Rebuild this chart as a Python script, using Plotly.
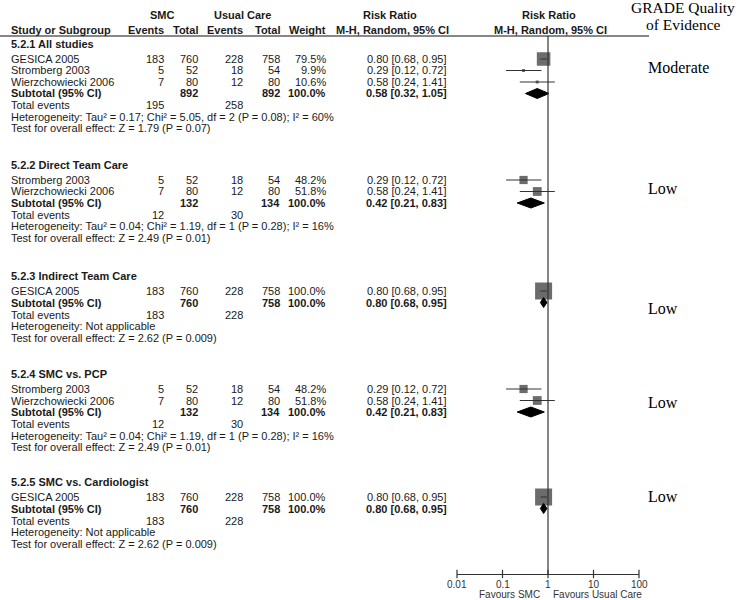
import math
import plotly.graph_objects as go

# ---------------- data ----------------
section_titles = ["5.2.1 All studies", "5.2.2 Direct Team Care", "5.2.3 Indirect Team Care",
                  "5.2.4 SMC vs. PCP", "5.2.5 SMC vs. Cardiologist"]
study_section = [0, 0, 0, 1, 1, 2, 3, 3, 4]
study_names = ["GESICA 2005", "Stromberg 2003", "Wierzchowiecki 2006",
               "Stromberg 2003", "Wierzchowiecki 2006",
               "GESICA 2005",
               "Stromberg 2003", "Wierzchowiecki 2006",
               "GESICA 2005"]
smc_events = [183, 5, 7, 5, 7, 183, 5, 7, 183]
smc_total = [760, 52, 80, 52, 80, 760, 52, 80, 760]
uc_events = [228, 18, 12, 18, 12, 228, 18, 12, 228]
uc_total = [758, 54, 80, 54, 80, 758, 54, 80, 758]
weights = [79.5, 9.9, 10.6, 48.2, 51.8, 100.0, 48.2, 51.8, 100.0]
rr = [0.80, 0.29, 0.58, 0.29, 0.58, 0.80, 0.29, 0.58, 0.80]
rr_lo = [0.68, 0.12, 0.24, 0.12, 0.24, 0.68, 0.12, 0.24, 0.68]
rr_hi = [0.95, 0.72, 1.41, 0.72, 1.41, 0.95, 0.72, 1.41, 0.95]

sub_smc_total = [892, 132, 760, 132, 760]
sub_uc_total = [892, 134, 758, 134, 758]
sub_rr = [0.58, 0.42, 0.80, 0.42, 0.80]
sub_lo = [0.32, 0.21, 0.68, 0.21, 0.68]
sub_hi = [1.05, 0.83, 0.95, 0.83, 0.95]
tot_smc_events = [195, 12, 183, 12, 183]
tot_uc_events = [258, 30, 228, 30, 228]
heterogeneity = ["Heterogeneity: Tau² = 0.17; Chi² = 5.05, df = 2 (P = 0.08); I² = 60%",
                 "Heterogeneity: Tau² = 0.04; Chi² = 1.19, df = 1 (P = 0.28); I² = 16%",
                 "Heterogeneity: Not applicable",
                 "Heterogeneity: Tau² = 0.04; Chi² = 1.19, df = 1 (P = 0.28); I² = 16%",
                 "Heterogeneity: Not applicable"]
overall_effect = ["Test for overall effect: Z = 1.79 (P = 0.07)",
                  "Test for overall effect: Z = 2.49 (P = 0.01)",
                  "Test for overall effect: Z = 2.62 (P = 0.009)",
                  "Test for overall effect: Z = 2.49 (P = 0.01)",
                  "Test for overall effect: Z = 2.62 (P = 0.009)"]
grade = ["Moderate", "Low", "Low", "Low", "Low"]
tick_vals = [0.01, 0.1, 1, 10, 100]
tick_text = ["0.01", "0.1", "1", "10", "100"]

# ---------------- layout constants ----------------
W, H = 738, 600
AXIS_Y = 574
FONT = "Liberation Sans, Arial, sans-serif"
SERIF = "Liberation Serif, Times New Roman, serif"
FS = 11
header_y = [44, 165, 276, 374, 482]
grade_y = [68, 188, 308, 402, 496]
ROW = 11.5
X_NAME, X_SE, X_ST, X_UE, X_UT, X_W, X_RR = 10, 165, 199, 244, 281, 327, 448

# compute row positions
study_y = []
sub_y, tot_y, het_y, test_y = [], [], [], []
for s in range(len(section_titles)):
    y = header_y[s] + 15
    for i, sec in enumerate(study_section):
        if sec == s:
            study_y.append(y)
            y += ROW
    sub_y.append(y)
    tot_y.append(y + 12)
    het_y.append(y + 12 + ROW)
    test_y.append(y + 12 + 2 * ROW)

fig = go.Figure()
annots = []


def txt(xs, ys, texts, anchor, bold=False, size=FS, family=FONT, color="#1a1a1a"):
    # positions given in page pixels (from top-left)
    for x, y, t in zip(xs, ys, texts):
        annots.append(dict(x=x / W, y=1 - y / H, xref="paper", yref="paper",
                           text=("<b>%s</b>" % t) if bold else t,
                           showarrow=False, xanchor=anchor, yanchor="middle", borderpad=0,
                           font=dict(family=family, size=size, color=color)))


# headers
txt([162, 242, 390, 549], [15] * 4, ["SMC", "Usual Care", "Risk Ratio", "Risk Ratio"], "center", bold=True)
txt([X_NAME], [30], ["Study or Subgroup"], "left", bold=True)
txt([X_SE, X_ST, X_UE, X_UT, X_W], [30] * 5, ["Events", "Total", "Events", "Total", "Weight"],
    "right", bold=True)
txt([392, 550], [30, 30], ["M-H, Random, 95% CI", "M-H, Random, 95% CI"], "center", bold=True)

# section headers
txt([X_NAME] * 5, header_y, section_titles, "left", bold=True)
# studies
txt([X_NAME] * len(study_names), study_y, study_names, "left")
txt([X_SE] * len(smc_events), study_y, [str(v) for v in smc_events], "right")
txt([X_ST] * len(smc_total), study_y, [str(v) for v in smc_total], "right")
txt([X_UE] * len(uc_events), study_y, [str(v) for v in uc_events], "right")
txt([X_UT] * len(uc_total), study_y, [str(v) for v in uc_total], "right")
txt([X_W] * len(weights), study_y, ["%.1f%%" % v for v in weights], "right")
txt([X_RR] * len(rr), study_y,
    ["%.2f [%.2f, %.2f]" % (a, b, c) for a, b, c in zip(rr, rr_lo, rr_hi)], "right")
# subtotals
txt([X_NAME] * 5, sub_y, ["Subtotal (95% CI)"] * 5, "left", bold=True)
txt([X_ST] * 5, sub_y, [str(v) for v in sub_smc_total], "right", bold=True)
txt([X_UT] * 5, sub_y, [str(v) for v in sub_uc_total], "right", bold=True)
txt([X_W] * 5, sub_y, ["100.0%"] * 5, "right", bold=True)
txt([X_RR] * 5, sub_y,
    ["%.2f [%.2f, %.2f]" % (a, b, c) for a, b, c in zip(sub_rr, sub_lo, sub_hi)], "right", bold=True)
# totals, heterogeneity, overall
txt([X_NAME] * 5, tot_y, ["Total events"] * 5, "left")
txt([X_SE] * 5, tot_y, [str(v) for v in tot_smc_events], "right")
txt([X_UE] * 5, tot_y, [str(v) for v in tot_uc_events], "right")
txt([X_NAME] * 5, het_y, heterogeneity, "left")
txt([X_NAME] * 5, test_y, overall_effect, "left")
# GRADE
txt([647] * 5, grade_y, grade, "left", size=16, family=SERIF, color="#000")
txt([683, 683], [8, 25], ["GRADE Quality", "of Evidence"], "center", size=15.5, family=SERIF, color="#000")
txt([541], [594.5], ["Favours SMC"], "right", size=10, color="#333")
txt([552], [594.5], ["Favours Usual Care"], "left", size=10, color="#333")
# tick labels placed through the log x axis
for v, t in zip(tick_vals, tick_text):
    annots.append(dict(x=math.log10(v), y=1 - 584 / H, xref="x", yref="paper", text=t,
                       showarrow=False, xanchor="center", yanchor="middle", borderpad=0,
                       font=dict(family=FONT, size=10, color="#333")))

# ---------------- forest marks (log axis) ----------------
for i in range(len(rr)):
    fig.add_trace(go.Scatter(x=[rr_lo[i], rr_hi[i]], y=[study_y[i]] * 2, mode="lines",
                             line=dict(color="#333", width=1), showlegend=False, hoverinfo="skip"))
fig.add_trace(go.Scatter(x=rr, y=study_y, mode="markers",
                         marker=dict(symbol="square", size=[max(w * 0.17, 3) for w in weights],
                                     color="#2e2e2e", line=dict(width=0)),
                         showlegend=False, hoverinfo="skip", cliponaxis=False))
for s in range(5):
    yy = sub_y[s]
    fig.add_trace(go.Scatter(x=[sub_lo[s], sub_rr[s], sub_hi[s], sub_rr[s], sub_lo[s]],
                             y=[yy, yy - 5, yy, yy + 5, yy], mode="lines", fill="toself",
                             fillcolor="#000", line=dict(color="#000", width=1),
                             showlegend=False, hoverinfo="skip"))
# line of no effect
fig.add_trace(go.Scatter(x=[1, 1], y=[36, AXIS_Y], mode="lines", line=dict(color="#333", width=1.2),
                         showlegend=False, hoverinfo="skip", cliponaxis=False))
# tick marks crossing the axis line
fig.add_trace(go.Scatter(x=tick_vals, y=[AXIS_Y] * len(tick_vals), mode="markers",
                         marker=dict(symbol="line-ns", size=6, line=dict(color="#333", width=1.2)),
                         showlegend=False, hoverinfo="skip", cliponaxis=False))

# header rule
fig.add_shape(type="line", xref="paper", yref="paper", x0=0, x1=649 / W,
              y0=1 - 36 / H, y1=1 - 36 / H, line=dict(color="#111", width=1.2))

fig.update_layout(
    autosize=True, margin=dict(l=0, r=0, t=0, b=0),
    plot_bgcolor="rgba(0,0,0,0)", paper_bgcolor="white",
    xaxis=dict(type="log", range=[-2, 2], domain=[457 / W, 639 / W],
               ticks="", showticklabels=False, showline=True, linecolor="#333", linewidth=1.2,
               showgrid=False, zeroline=False),
    yaxis=dict(range=[AXIS_Y, 0], domain=[(H - AXIS_Y) / H, 1], visible=False),
    annotations=annots,
)

# the figure div is pinned to the page's top-left corner at exactly 738x600
fig.write_html("out.html", config={"displayModeBar": False, "responsive": False},
               default_width="%dpx" % W,
               default_height="%dpx;position:absolute;left:0;top:0" % H,
               post_script="document.body.style.margin='0';document.body.style.overflow='hidden';")
